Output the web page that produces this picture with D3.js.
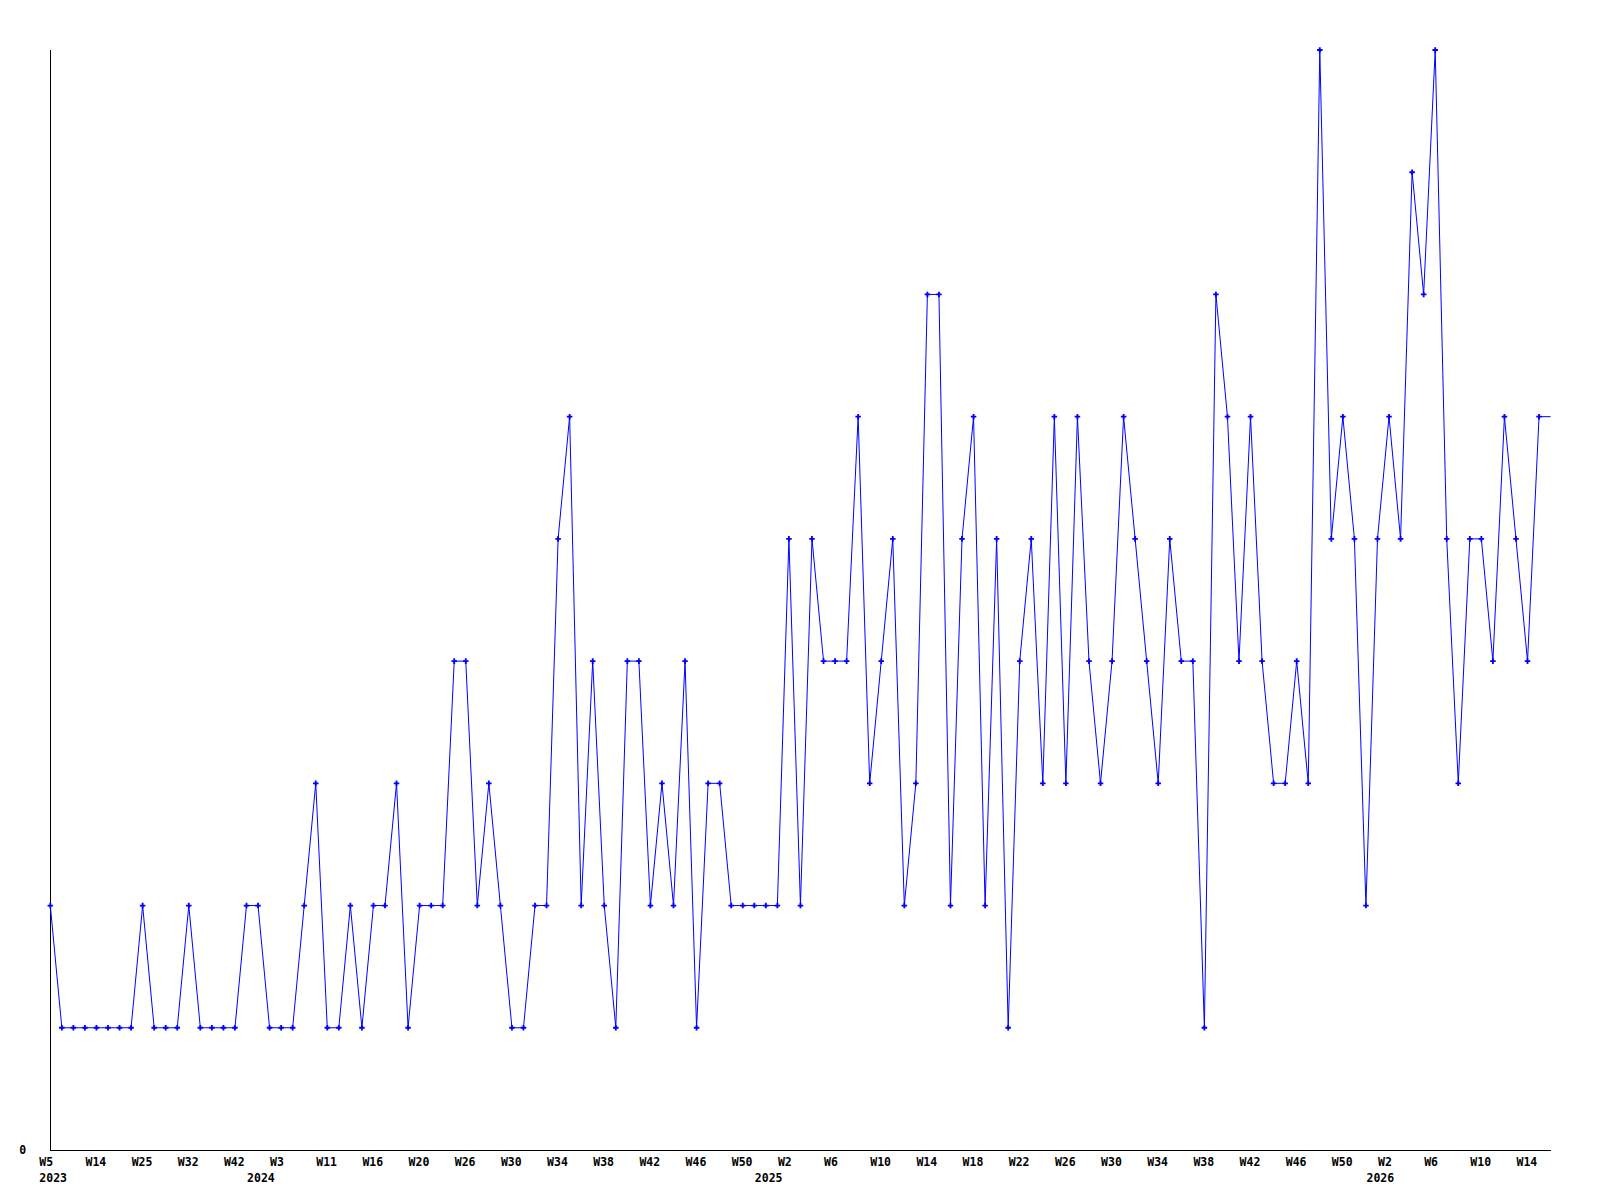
<!DOCTYPE html>
<html>
<head>
<meta charset="utf-8">
<script src="https://cdn.jsdelivr.net/npm/d3@7"></script>
<style>
  html, body { margin: 0; padding: 0; background: #fff; }
  svg { display: block; }
  text { font-family: "DejaVu Sans Mono", "Liberation Mono", monospace; font-weight: bold; font-size: 11.5px; fill: #000; }
</style>
</head>
<body>
<svg id="chart" width="1600" height="1200"></svg>
<script>
// Weekly counts (one value per point)
const values = [
  2,1,1,1,1,1,1,1,2,1,
  1,1,2,1,1,1,1,2,2,1,
  1,1,2,3,1,1,2,1,2,2,
  3,1,2,2,2,4,4,2,3,2,
  1,1,2,2,5,6,2,4,2,1,
  4,4,2,3,2,4,1,3,3,2,
  2,2,2,2,5,2,5,4,4,4,
  6,3,4,5,2,3,7,7,2,5,
  6,2,5,1,4,5,3,6,3,6,
  4,3,4,6,5,4,3,5,4,4,
  1,7,6,4,6,4,3,3,4,3,
  9,5,6,5,2,5,6,5,8,7,
  9,5,3,5,5,4,6,5,4,6
];

// Week tick labels, one every 4 points
const weekLabels = ["W5","W14","W25","W32","W42","W3","W11","W16","W20","W26","W30",
  "W34","W38","W42","W46","W50","W2","W6","W10","W14","W18","W22","W26","W30",
  "W34","W38","W42","W46","W50","W2","W6","W10","W14"];
const tickStep = 4;

// Year labels and the point index where each year starts
const yearLabels = ["2023","2024","2025","2026"];
const yearIndex = [0, 18, 62, 115];

const yTickValues = [0];
const yMax = 9;

const svg = d3.select("#chart");
const plotLeft = 50.3, plotRight = 1550.6, plotTop = 50, plotBottom = 1150;

const x = d3.scaleLinear().domain([0, values.length]).range([plotLeft, plotRight]);
const y = d3.scaleLinear().domain([0, yMax]).range([plotBottom, plotTop]);

// axes lines
svg.append("line").attr("x1", plotLeft).attr("x2", plotLeft).attr("y1", plotTop).attr("y2", plotBottom)
  .attr("stroke", "#000").attr("stroke-width", 1).attr("shape-rendering", "crispEdges");
svg.append("line").attr("x1", plotLeft).attr("x2", plotRight).attr("y1", plotBottom).attr("y2", plotBottom)
  .attr("stroke", "#000").attr("stroke-width", 1).attr("shape-rendering", "crispEdges");

// y tick label(s)
svg.selectAll("text.ylab").data(yTickValues).enter().append("text")
  .attr("class", "ylab")
  .attr("x", 19.3)
  .attr("y", d => y(d) + 4)
  .text(d => d);

// week labels
svg.selectAll("text.wlab").data(weekLabels).enter().append("text")
  .attr("class", "wlab")
  .attr("x", (d, i) => x(i * tickStep) - 11)
  .attr("y", 1165.5)
  .text(d => d);

// year labels
svg.selectAll("text.yrlab").data(yearLabels).enter().append("text")
  .attr("class", "yrlab")
  .attr("x", (d, i) => x(yearIndex[i]) - 11)
  .attr("y", 1181.5)
  .text(d => d);

// line: the last value is held to the right edge of the plot
const lineData = values.map((v, i) => [i, v]).concat([[values.length, values[values.length - 1]]]);
const line = d3.line().x(d => x(d[0])).y(d => y(d[1]));
svg.append("path").datum(lineData)
  .attr("d", line)
  .attr("fill", "none")
  .attr("stroke", "#0000ff")
  .attr("stroke-width", 1);

// markers
const sym = d3.symbol().type(d3.symbolCross).size(17);
svg.selectAll("path.pt").data(values).enter().append("path")
  .attr("class", "pt")
  .attr("transform", (d, i) => `translate(${x(i)},${y(d)})`)
  .attr("d", sym)
  .attr("fill", "#0000ff");
</script>
</body>
</html>
